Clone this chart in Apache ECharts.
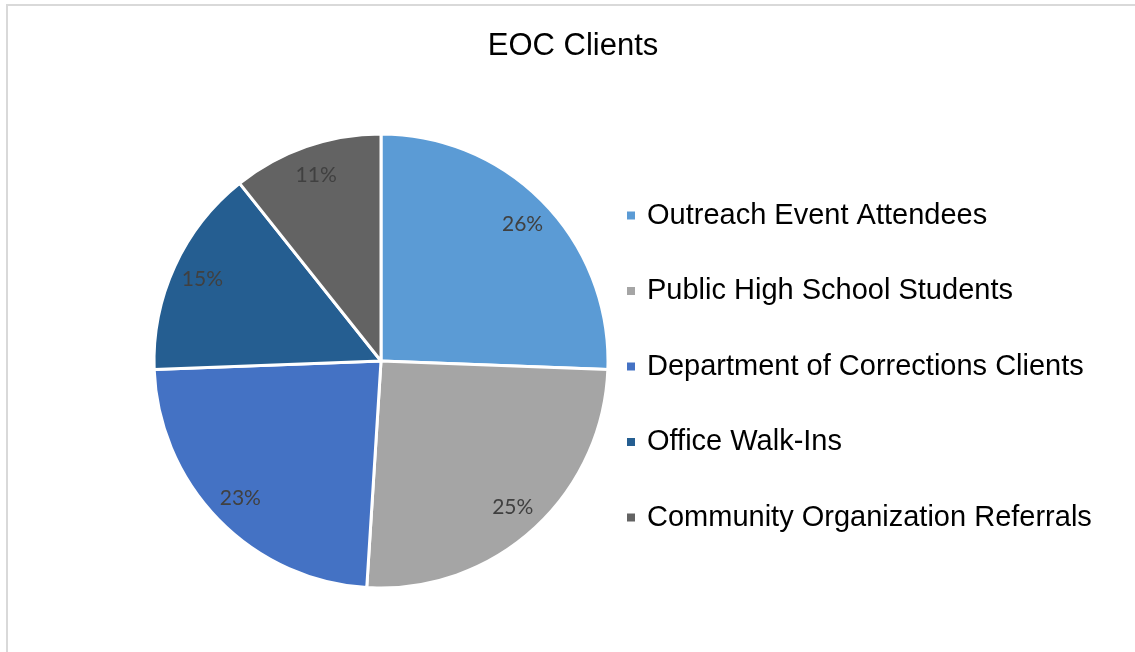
<!DOCTYPE html>
<html>
<head>
<meta charset="utf-8">
<script src="https://cdn.jsdelivr.net/npm/echarts@6/dist/echarts.min.js"></script>
<style>
html,body{margin:0;padding:0;background:#fff;}
#frame{position:absolute;left:6px;top:4px;width:1140px;height:660px;border-left:2px solid #d9d9d9;border-top:2px solid #d9d9d9;}
#main{position:absolute;left:0;top:0;width:1135px;height:652px;}
</style>
</head>
<body>
<div id="frame"></div>
<div id="main"></div>
<script>
const title = 'EOC Clients';
const categories = ['Outreach Event Attendees','Public High School Students','Department of Corrections Clients','Office Walk-Ins','Community Organization Referrals'];
const values = [25.6, 25.4, 23.4, 14.9, 10.7];
const colors = ['#5B9BD5','#A5A5A5','#4472C4','#255E91','#636363'];

const data = categories.map((c,i)=>({name:c, value:values[i], itemStyle:{color:colors[i]}}));
const chart = echarts.init(document.getElementById('main'));
chart.setOption({
  animation:false,
  title:{text:title,left:568,top:26,textAlign:'center',textStyle:{fontFamily:'Liberation Sans',fontSize:31,fontWeight:'normal',color:'#000'}},
  legend:{orient:'vertical',left:620,top:196,icon:'rect',itemWidth:10,itemHeight:10,itemGap:46.5,
    data:categories,
    textStyle:{fontFamily:'Liberation Sans',fontSize:29,color:'#000',lineHeight:28,padding:[0,0,0,6]}},
  series:[
    {type:'pie',center:[381,361],radius:[0,227],startAngle:90,clockwise:true,
     data:data,label:{show:false},labelLine:{show:false},silent:true,
     itemStyle:{borderColor:'#fff',borderWidth:3}},
    {type:'pie',center:[381,361],radius:[160,227],startAngle:90,clockwise:true,
     data:data.map(d=>({name:d.name,value:d.value,itemStyle:{color:'rgba(0,0,0,0)'}})),
     silent:true,legendHoverLink:false,
     label:{show:true,position:'inside',formatter:p=>Math.round(p.percent)+'%',fontFamily:'Lato',fontSize:21,color:'#404040'},
     labelLine:{show:false}}
  ]
});
</script>
</body>
</html>
